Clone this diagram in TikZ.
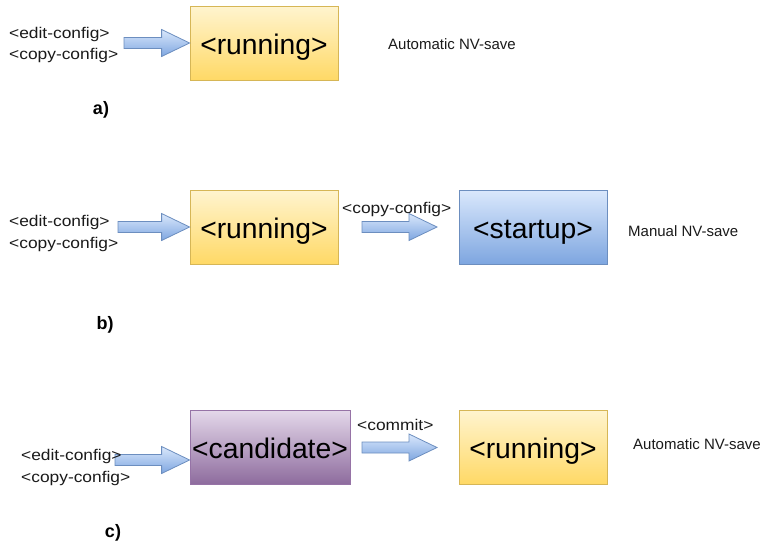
\documentclass[tikz,border=0pt]{standalone}
\usepackage{fontspec}
\setmainfont{Liberation Sans}
\newfontfamily\tagfont[FakeStretch=1.12]{Liberation Sans}
\usetikzlibrary{calc}

\definecolor{yelTop}{HTML}{FFF4CF}
\definecolor{yelBot}{HTML}{FFD966}
\definecolor{yelLine}{HTML}{D6B656}
\definecolor{bluTop}{HTML}{DAE8FC}
\definecolor{bluBot}{HTML}{7EA6E0}
\definecolor{bluLine}{HTML}{6C8EBF}
\definecolor{purTop}{HTML}{E4D8EA}
\definecolor{purBot}{HTML}{8E6C9E}
\definecolor{purLine}{HTML}{9673A6}
\definecolor{txt}{HTML}{1A1A1A}

\tikzset{
  store/.style={draw, line width=0.8pt, minimum height=74pt, inner sep=0pt,
    text height=23pt, text depth=0pt,
    font=\fontsize{28.3}{30}\selectfont, text=black},
  runbox/.style={store, draw=yelLine, top color=yelTop, bottom color=yelBot, minimum width=148pt},
  startbox/.style={store, draw=bluLine, top color=bluTop, bottom color=bluBot, minimum width=148pt},
  candbox/.style={store, draw=purLine, top color=purTop, bottom color=purBot, minimum width=160pt},
  small/.style={font=\tagfont\fontsize{15.5}{17}\selectfont, text=txt, inner sep=0pt, anchor=west},
  note/.style={font=\fontsize{15}{17}\selectfont, text=txt, inner sep=0pt, anchor=west},
  caption/.style={font=\bfseries\fontsize{18}{20}\selectfont, text=black, inner sep=0pt},
  fatarrow/.style={draw=bluLine, line width=0.8pt, top color=bluTop, bottom color=bluBot, line join=miter},
}

% horizontal block arrow from #1 to #2
\newcommand\blockarrow[2]{%
  \path[fatarrow] let \p1=(#1), \p2=(#2) in
    (\x1,\y1+5.5pt) -- (\x2-28pt,\y1+5.5pt) -- (\x2-28pt,\y1+13.5pt) --
    (\x2,\y1) -- (\x2-28pt,\y1-13.5pt) -- (\x2-28pt,\y1-5.5pt) --
    (\x1,\y1-5.5pt) -- cycle;}

\begin{document}
\begin{tikzpicture}[x=1pt,y=-1pt]
\useasboundingbox (0,0) rectangle (760,546);

% a) running only
\node[runbox] (runA) at (264,43) {<running>};
\node[small] (editA) at (9,34) {<edit-config>};
\node[small] (copyA) at (9,55) {<copy-config>};
\coordinate (tailA) at (124,43);
\blockarrow{tailA}{runA.west}
\node[note] (saveA) at (388,44) {Automatic NV-save};
\node[caption] (capA) at (101,110) {a)};

% b) running and startup
\node[runbox] (runB) at (264,227) {<running>};
\node[startbox] (startB) at (533,227) {<startup>};
\node[small] (editB) at (9,222) {<edit-config>};
\node[small] (copyB) at (9,244) {<copy-config>};
\coordinate (tailB) at (118,227);
\blockarrow{tailB}{runB.west}
\node[small] (copyLblB) at (342,209) {<copy-config>};
\coordinate (tailB2) at (362,227);
\coordinate (tipB2) at (437,227);
\blockarrow{tailB2}{tipB2}
\node[note] (saveB) at (628,231) {Manual NV-save};
\node[caption] (capB) at (105,325) {b)};

% c) candidate and running (input arrow sits under the tag text)
\node[candbox] (candC) at (270,447) {<candidate>};
\node[runbox] (runC) at (533,447) {<running>};
\coordinate (tailC) at (115,460);
\path let \p1=(tailC), \p2=(candC.west) in coordinate (tipC) at (\x2,\y1);
\blockarrow{tailC}{tipC}
\node[small] (editC) at (21,456) {<edit-config>};
\node[small] (copyC) at (21,478) {<copy-config>};
\node[small] (commitC) at (357,425) {<commit>};
\coordinate (tailC2) at (362,447.5);
\coordinate (tipC2) at (437,447.5);
\blockarrow{tailC2}{tipC2}
\node[note] (saveC) at (633,444) {Automatic NV-save};
\node[caption] (capC) at (113,533) {c)};
\end{tikzpicture}
\end{document}
